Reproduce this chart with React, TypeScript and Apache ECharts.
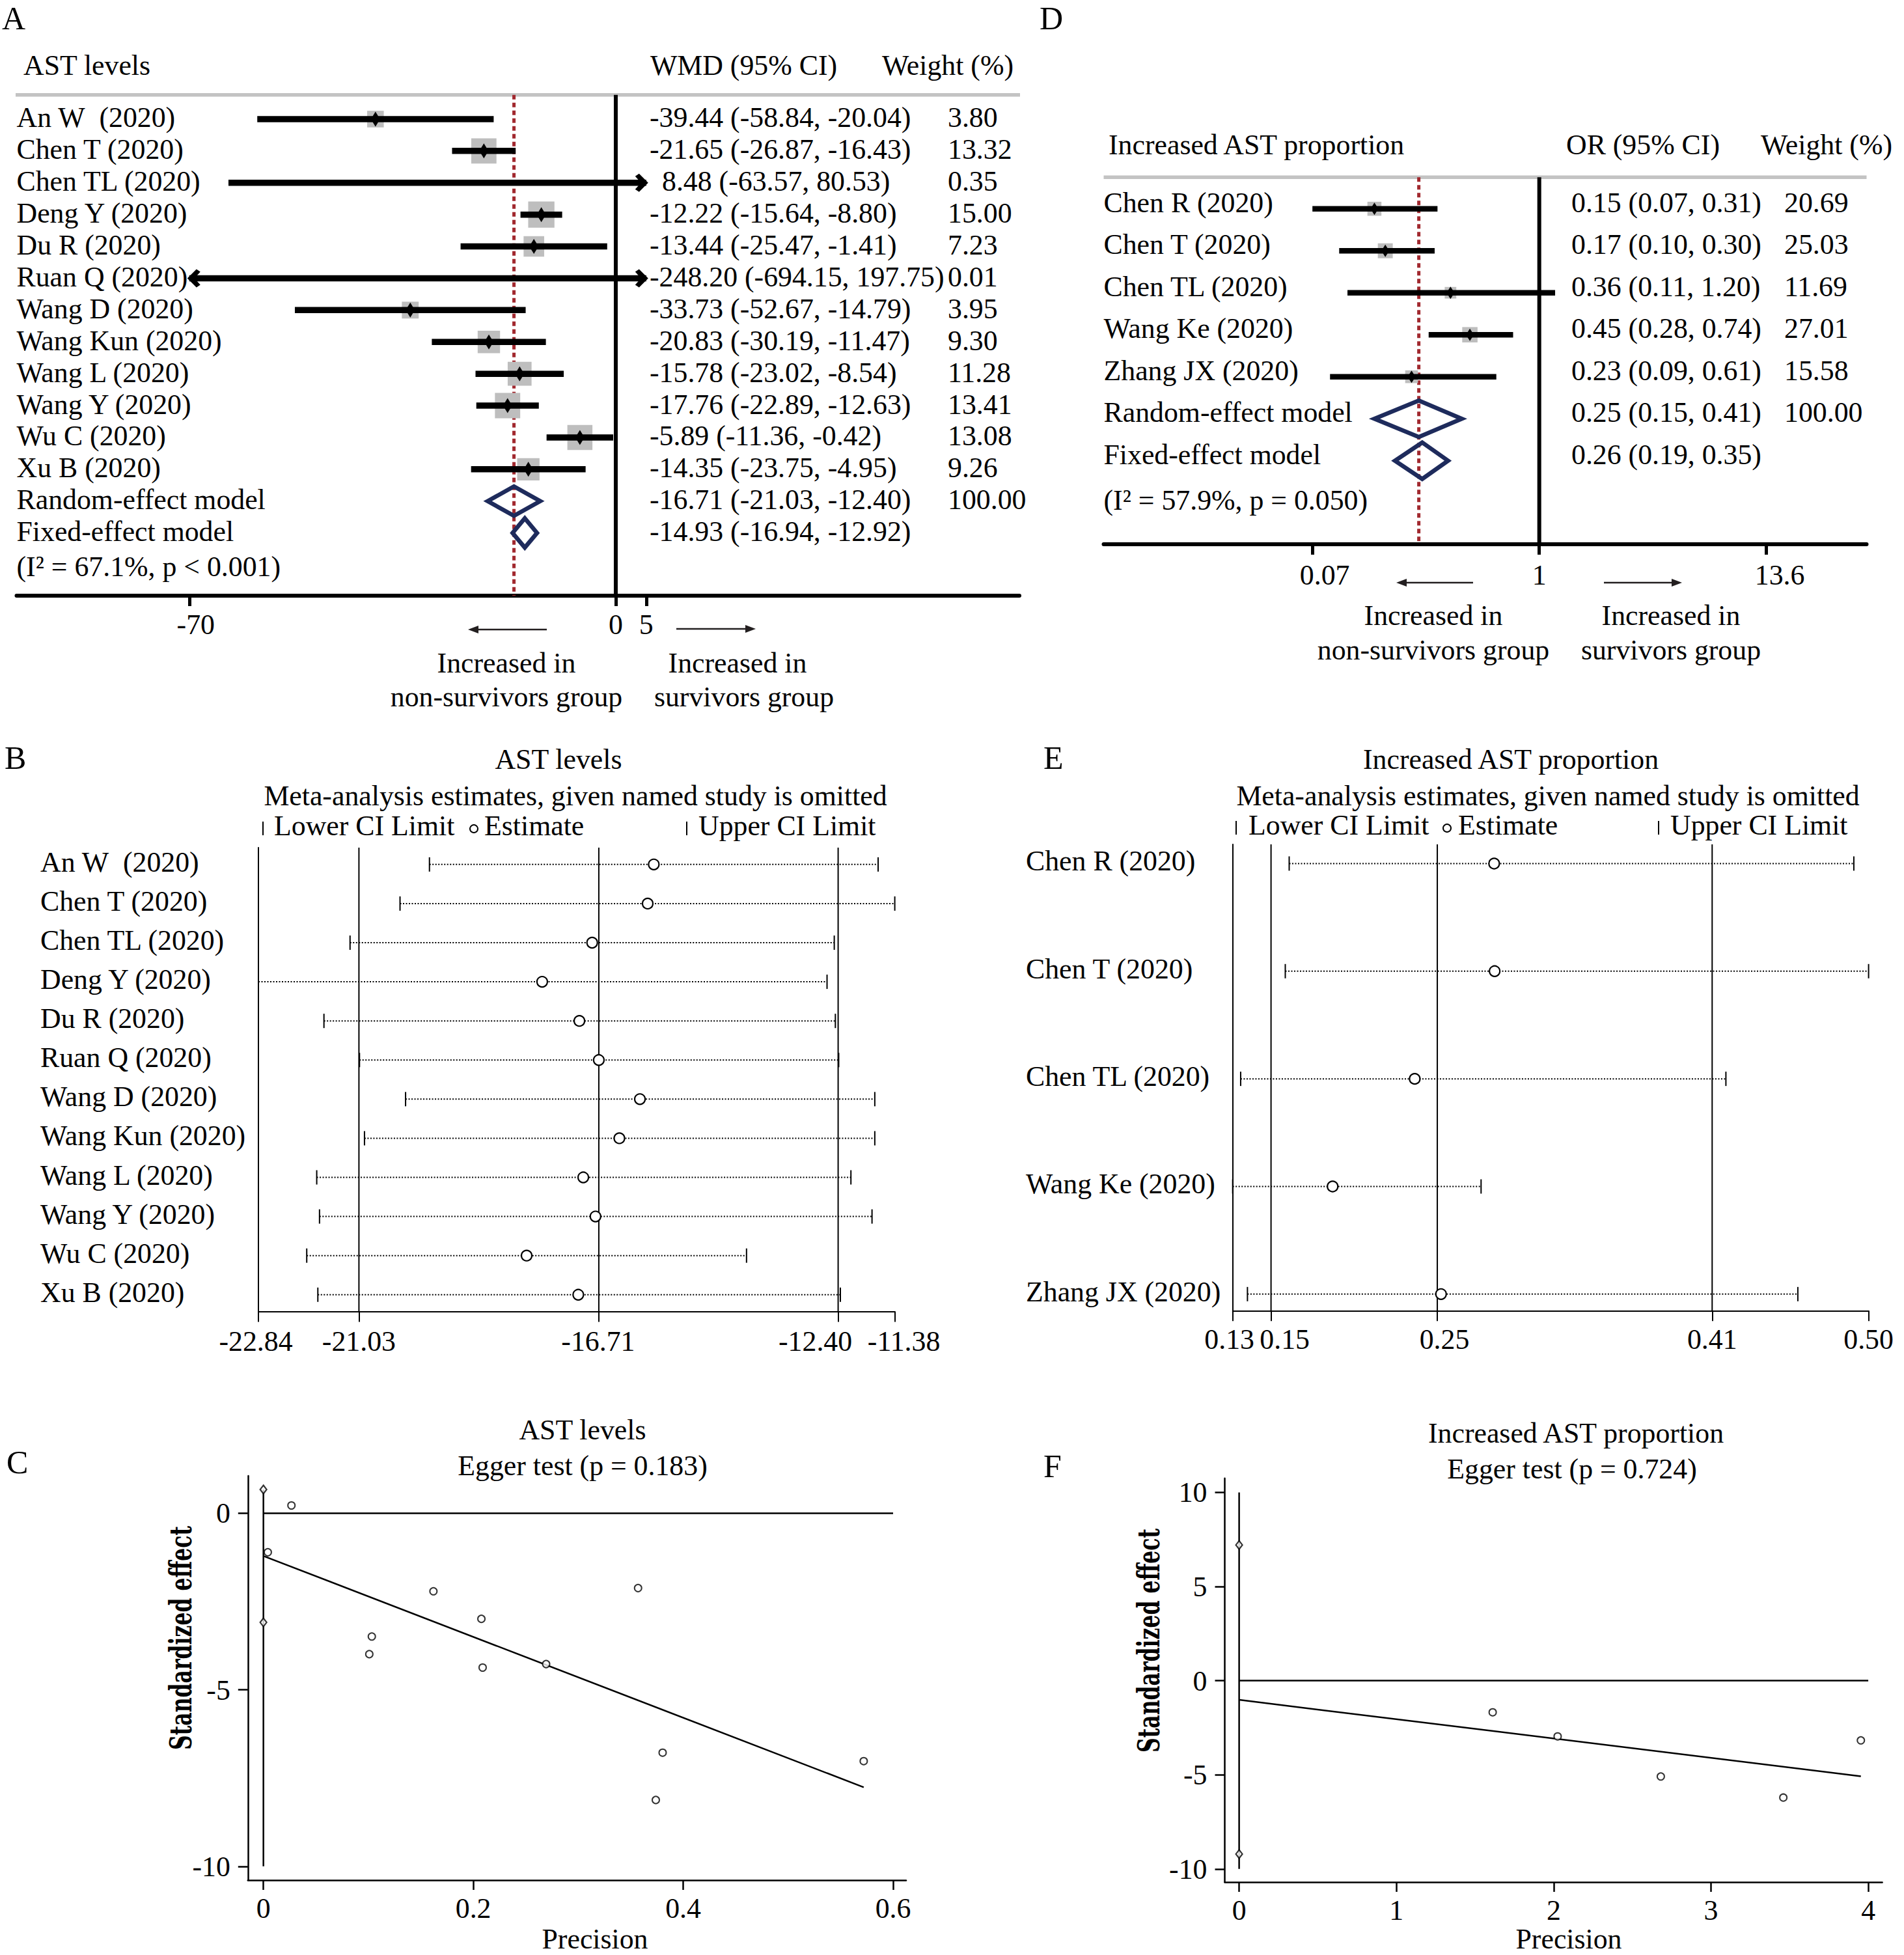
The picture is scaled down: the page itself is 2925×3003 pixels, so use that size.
import React, { useEffect, useRef } from "react";
import * as echarts from "echarts";

const FONT = '"Liberation Serif", "Times New Roman", serif';
const FS = 43.8;
const NAVY = "#1e2b5c";
const RED = "#a1282e";
const BOX = "#bebebe";
const RULE = "#c3c3c3";

// ---------- Panel A : AST levels (WMD forest plot) ----------
const aTitle = "AST levels";
const aStudies = ["An W  (2020)", "Chen T (2020)", "Chen TL (2020)", "Deng Y (2020)", "Du R (2020)", "Ruan Q (2020)", "Wang D (2020)", "Wang Kun (2020)", "Wang L (2020)", "Wang Y (2020)", "Wu C (2020)", "Xu B (2020)"];
const aEst = [-39.44, -21.65, 8.48, -12.22, -13.44, -248.2, -33.73, -20.83, -15.78, -17.76, -5.89, -14.35];
const aLow = [-58.84, -26.87, -63.57, -15.64, -25.47, -694.15, -52.67, -30.19, -23.02, -22.89, -11.36, -23.75];
const aHigh = [-20.04, -16.43, 80.53, -8.8, -1.41, 197.75, -14.79, -11.47, -8.54, -12.63, -0.42, -4.95];
const aWeight = [3.8, 13.32, 0.35, 15.0, 7.23, 0.01, 3.95, 9.3, 11.28, 13.41, 13.08, 9.26];
const aPooled = ["Random-effect model", "Fixed-effect model"];
const aPooledEst = [-16.71, -14.93];
const aPooledLow = [-21.03, -16.94];
const aPooledHigh = [-12.4, -12.92];
const aPooledWeight = [100.0, NaN];
const aHet = "(I\u00b2 = 67.1%, p < 0.001)";
const aTicks = [-70, 0, 5];
const aTickLabels = ["-70", "0", "5"];

// ---------- Panel D : Increased AST proportion (OR forest plot) ----------
const dTitle = "Increased AST proportion";
const dStudies = ["Chen R (2020)", "Chen T (2020)", "Chen TL (2020)", "Wang Ke (2020)", "Zhang JX (2020)"];
const dEst = [0.15, 0.17, 0.36, 0.45, 0.23];
const dLow = [0.0735, 0.1, 0.11, 0.28, 0.09];
const dHigh = [0.31, 0.3, 1.2, 0.74, 0.61];
const dWeight = [20.69, 25.03, 11.69, 27.01, 15.58];
const dPooled = ["Random-effect model", "Fixed-effect model"];
const dPooledEst = [0.25, 0.26];
const dPooledLow = [0.15, 0.19];
const dPooledHigh = [0.41, 0.35];
const dPooledWeight = [100.0, NaN];
const dHet = "(I\u00b2 = 57.9%, p = 0.050)";
const dTicks = [0.0735, 1, 13.6];
const dTickLabels = ["0.07", "1", "13.6"];

// ---------- Panel B : leave-one-out, AST levels ----------
const bStudies = ["An W  (2020)", "Chen T (2020)", "Chen TL (2020)", "Deng Y (2020)", "Du R (2020)", "Ruan Q (2020)", "Wang D (2020)", "Wang Kun (2020)", "Wang L (2020)", "Wang Y (2020)", "Wu C (2020)", "Xu B (2020)"];
const bEst = [-15.72, -15.83, -16.83, -17.73, -17.06, -16.71, -15.97, -16.34, -16.99, -16.77, -18.01, -17.08];
const bLow = [-19.76, -20.29, -21.19, -22.84, -21.66, -21.02, -20.19, -20.93, -21.79, -21.74, -21.97, -21.77];
const bHigh = [-11.68, -11.38, -12.47, -12.6, -12.45, -12.39, -11.74, -11.74, -12.17, -11.79, -14.05, -12.36];
const bTicks = [-22.84, -21.03, -16.71, -12.4, -11.38];

// ---------- Panel E : leave-one-out, increased AST proportion ----------
const eStudies = ["Chen R (2020)", "Chen T (2020)", "Chen TL (2020)", "Wang Ke (2020)", "Zhang JX (2020)"];
const eEst = [0.2815, 0.2818, 0.2347, 0.1863, 0.2502];
const eLow = [0.1607, 0.1584, 0.1321, 0.1274, 0.1361];
const eHigh = [0.4935, 0.5022, 0.4181, 0.2738, 0.4605];
const eTicks = [0.1274, 0.15, 0.248, 0.41, 0.5022];

// ---------- Panel C : Egger test, AST levels ----------
const cPrecision = [0.0267, 0.0042, 0.162, 0.357, 0.2077, 0.1033, 0.1009, 0.2089, 0.2694, 0.3804, 0.572, 0.3739];
const cEffect = [0.221, -1.104, -2.209, -2.118, -2.99, -3.49, -3.99, -4.37, -4.27, -6.78, -7.02, -8.12];
const cFit = [[0, -1.21], [0.572, -7.76]];
const cInterceptCI = [-3.09, 0.673];
const cXTicks = [0, 0.2, 0.4, 0.6];
const cYTicks = [-10, -5, 0];

// ---------- Panel F : Egger test, increased AST proportion ----------
const fPrecision = [1.612, 2.025, 2.681, 3.46, 3.953];
const fEffect = [-1.68, -2.96, -5.09, -6.21, -3.17];
const fFit = [[0, -1.02], [3.953, -5.08]];
const fInterceptCI = [-9.21, 7.21];
const fXTicks = [0, 1, 2, 3, 4];
const fYTicks = [-10, -5, 0, 5, 10];

// tick-label nudges (pixels) as drawn in the original figure
const aLabelNudge = [10, 0, 0];
const dLabelNudge = [19, 0, 21];
const bLabelNudge = [-4, 0, -1, -35, 14];
const eLabelNudge = [-5, 21, 11, 0, 0];

function T(text: string, x: number, y: number, align = "left", size = FS, weight = "normal", family = FONT) {
  return {
    type: "text",
    x,
    y,
    silent: true,
    style: {
      text,
      font: `${weight} ${size}px ${family}`,
      fill: "#000",
      textAlign: align,
      textVerticalAlign: "middle",
    },
  };
}

function vline(gi: number, vals: number[], style: any) {
  return {
    type: "custom",
    xAxisIndex: gi,
    yAxisIndex: gi,
    silent: true,
    data: vals.map((v) => [v, 0]),
    encode: { x: 0, y: 1 },
    renderItem: (params: any, api: any) => {
      const cs = params.coordSys;
      const x = api.coord([api.value(0), api.value(1)])[0];
      return { type: "line", shape: { x1: x, y1: cs.y, x2: x, y2: cs.y + cs.height }, style: { ...style } };
    },
  };
}

function tickLabelSeries(gi: number, ticks: number[], labels: string[], nudge: number[], dy: number) {
  return {
    type: "custom",
    xAxisIndex: gi,
    yAxisIndex: gi,
    silent: true,
    data: ticks.map((v) => [v, 0]),
    encode: { x: 0, y: 1 },
    renderItem: (params: any, api: any) => {
      const cs = params.coordSys;
      const i = params.dataIndex;
      const x = api.coord([api.value(0), api.value(1)])[0] + nudge[i];
      return T(labels[i], x, cs.y + cs.height + dy, "center");
    },
  };
}

function forestSeries(f: any) {
  const cmin = f.tf(f.clip[0]);
  const cmax = f.tf(f.clip[1]);
  const n = f.labels.length;
  const rows = f.labels.map((_: any, i: number) => [i, f.tf(f.lo[i]), f.tf(f.est[i]), f.tf(f.hi[i]), f.w[i]]);
  const pooled = f.pLabels.map((_: any, j: number) => [n + j, f.tf(f.pLo[j]), f.tf(f.pEst[j]), f.tf(f.pHi[j])]);
  const arrow = (x: number, y: number, dir: number) => ({
    type: "polygon",
    shape: {
      points: [
        [x, y],
        [x - dir * 14, y - 14],
        [x - dir * 20, y - 10],
        [x - dir * 11, y],
        [x - dir * 20, y + 10],
        [x - dir * 14, y + 14],
      ],
    },
    style: { fill: "#000" },
  });
  const rowSeries = {
    type: "custom",
    xAxisIndex: f.gi,
    yAxisIndex: f.gi,
    silent: true,
    data: rows,
    encode: { x: [1, 2, 3], y: 0 },
    renderItem: (params: any, api: any) => {
      const idx = api.value(0);
      const lo = api.value(1);
      const est = api.value(2);
      const hi = api.value(3);
      const w = api.value(4);
      const a = Math.max(lo, cmin);
      const b = Math.min(hi, cmax);
      const pA = api.coord([a, idx]);
      const pB = api.coord([b, idx]);
      const pE = api.coord([est, idx]);
      const y = pA[1];
      const ch: any[] = [];
      const vis = est >= cmin && est <= cmax;
      if (vis) {
        const s = f.boxK * Math.cbrt(w);
        ch.push({ type: "rect", shape: { x: pE[0] - s / 2, y: y - s / 2, width: s, height: s }, style: { fill: BOX } });
      }
      ch.push({ type: "line", shape: { x1: pA[0], y1: y, x2: pB[0], y2: y }, style: { stroke: "#000", lineWidth: f.barW } });
      if (lo < cmin) ch.push(arrow(pA[0] - 3, y, -1));
      if (hi > cmax) ch.push(arrow(pB[0] + 3, y, 1));
      if (vis) {
        ch.push({
          type: "polygon",
          shape: {
            points: [
              [pE[0], y - f.markH / 2],
              [pE[0] + f.markW / 2, y],
              [pE[0], y + f.markH / 2],
              [pE[0] - f.markW / 2, y],
            ],
          },
          style: { fill: "#000" },
        });
      }
      return { type: "group", children: ch };
    },
  };
  const pooledSeries = {
    type: "custom",
    xAxisIndex: f.gi,
    yAxisIndex: f.gi,
    silent: true,
    data: pooled,
    encode: { x: [1, 2, 3], y: 0 },
    renderItem: (params: any, api: any) => {
      const idx = api.value(0);
      const l = api.coord([api.value(1), idx]);
      const e = api.coord([api.value(2), idx]);
      const h = api.coord([api.value(3), idx]);
      const y = e[1];
      return {
        type: "polygon",
        shape: { points: [[l[0], y], [e[0], y - f.dHalf], [h[0], y], [e[0], y + f.dHalf]] },
        style: { fill: "none", stroke: NAVY, lineWidth: 6.5, lineJoin: "miter" },
      };
    },
  };
  const allLabels = [...f.labels, ...f.pLabels];
  const ciText = (e: number, l: number, h: number) => `${e.toFixed(2)} (${l.toFixed(2)}, ${h.toFixed(2)})`;
  const textSeries = {
    type: "custom",
    xAxisIndex: f.gi,
    yAxisIndex: f.gi,
    silent: true,
    data: allLabels.map((_: any, i: number) => [cmin, i]),
    encode: { x: 0, y: 1 },
    renderItem: (params: any, api: any) => {
      const i = params.dataIndex;
      const y = api.coord([api.value(0), api.value(1)])[1] + f.textDy;
      const isP = i >= n;
      const j = i - n;
      const e = isP ? f.pEst[j] : f.est[i];
      const l = isP ? f.pLo[j] : f.lo[i];
      const h = isP ? f.pHi[j] : f.hi[i];
      const w = isP ? f.pW[j] : f.w[i];
      const ch: any[] = [
        T(String(allLabels[i]).replace(/  /g, "\u00a0 "), f.xLabel, y),
        T(ciText(e, l, h), f.xCI + (e >= 0 ? f.posShift : 0), y),
      ];
      if (w != null && !isNaN(w)) ch.push(T(w.toFixed(2), f.xW, y));
      return { type: "group", children: ch };
    },
  };
  return [
    vline(f.gi, [f.tf(f.nullValue)], { stroke: "#000", lineWidth: 6 }),
    vline(f.gi, [f.tf(f.refValue)], { stroke: RED, lineWidth: 5, lineDash: [7, 5] }),
    rowSeries,
    pooledSeries,
    textSeries,
  ];
}

function influenceSeries(gi: number, labels: string[], lo: number[], est: number[], hi: number[], xLabel: number) {
  const data = est.map((_, i) => [i, lo[i], est[i], hi[i]]);
  return [
    {
      type: "custom",
      xAxisIndex: gi,
      yAxisIndex: gi,
      silent: true,
      data,
      encode: { x: [1, 2, 3], y: 0 },
      renderItem: (params: any, api: any) => {
        const idx = api.value(0);
        const pL = api.coord([api.value(1), idx]);
        const pE = api.coord([api.value(2), idx]);
        const pH = api.coord([api.value(3), idx]);
        const y = pL[1];
        return {
          type: "group",
          children: [
            { type: "line", shape: { x1: pL[0], y1: y, x2: pH[0], y2: y }, style: { stroke: "#000", lineWidth: 2, lineDash: [2, 2.5] } },
            { type: "line", shape: { x1: pL[0], y1: y - 11, x2: pL[0], y2: y + 11 }, style: { stroke: "#000", lineWidth: 2 } },
            { type: "line", shape: { x1: pH[0], y1: y - 11, x2: pH[0], y2: y + 11 }, style: { stroke: "#000", lineWidth: 2 } },
            { type: "circle", shape: { cx: pE[0], cy: y, r: 8 }, style: { fill: "#fff", stroke: "#000", lineWidth: 2.2 } },
          ],
        };
      },
    },
    {
      type: "custom",
      xAxisIndex: gi,
      yAxisIndex: gi,
      silent: true,
      data: labels.map((_, i) => [lo[0], i]),
      encode: { x: 0, y: 1 },
      renderItem: (params: any, api: any) => {
        const y = api.coord([api.value(0), api.value(1)])[1] - 4;
        return T(labels[params.dataIndex].replace(/  /g, "\u00a0 "), xLabel, y);
      },
    },
  ];
}

function eggerSeries(gi: number, prec: number[], eff: number[], fit: number[][], ci: number[], xt: number[], yt: number[]) {
  const base = { xAxisIndex: gi, yAxisIndex: gi, silent: true };
  const lineStyle = { color: "#000", width: 2.5 };
  return [
    { ...base, type: "line", data: [[xt[0], 0], [xt[xt.length - 1], 0]], symbol: "none", lineStyle },
    {
      ...base,
      type: "line",
      data: [[0, Math.min(ci[0], yt[0])], [0, Math.max(ci[1], yt[yt.length - 1])]],
      symbol: "none",
      lineStyle,
    },
    { ...base, type: "line", data: fit, symbol: "none", lineStyle },
    {
      ...base,
      type: "scatter",
      data: ci.map((v) => [0, v]),
      symbol: "diamond",
      symbolSize: [10, 13],
      itemStyle: { color: "#fff", borderColor: "#000", borderWidth: 2.2 },
      z: 5,
    },
    {
      ...base,
      type: "scatter",
      data: prec.map((p, i) => [p, eff[i]]),
      symbol: "circle",
      symbolSize: 11,
      itemStyle: { color: "#fff", borderColor: "#000", borderWidth: 2 },
      z: 5,
    },
  ];
}

const labelStyle = { color: "#000", fontSize: FS, fontFamily: FONT };

function bottomAxis(gi: number, min: number, max: number, ticks: number[], fmt: any, lineW: number, tickW: number, tickLen: number, margin: number, showLabels: boolean) {
  return {
    gridIndex: gi,
    type: "value",
    min,
    max,
    position: "bottom",
    axisLine: { show: true, onZero: false, lineStyle: { color: "#000", width: lineW } },
    axisTick: { show: true, customValues: ticks, length: tickLen, inside: false, lineStyle: { color: "#000", width: tickW } },
    axisLabel: { show: showLabels, customValues: ticks, formatter: fmt, margin, hideOverlap: false, ...labelStyle },
    splitLine: { show: false },
  };
}

function rowAxis(gi: number, min: number, max: number, showLine: boolean) {
  return {
    gridIndex: gi,
    type: "value",
    min,
    max,
    inverse: true,
    axisLine: { show: showLine, onZero: false, lineStyle: { color: "#000", width: 2 } },
    axisTick: { show: false },
    axisLabel: { show: false },
    splitLine: { show: false },
  };
}

function leftAxis(gi: number, min: number, max: number, ticks: number[]) {
  return {
    gridIndex: gi,
    type: "value",
    min,
    max,
    axisLine: { show: true, onZero: false, lineStyle: { color: "#000", width: 2.5 } },
    axisTick: { show: true, customValues: ticks, length: 15, lineStyle: { color: "#000", width: 2.5 } },
    axisLabel: { show: true, customValues: ticks, margin: 27, hideOverlap: false, formatter: (v: number) => String(v), ...labelStyle },
    splitLine: { show: false },
  };
}

function buildOption() {
  const G: any[] = [];
  const gt = (text: string, x: number, y: number, align = "left", size = FS) => G.push(T(text, x, y, align, size));
  const arrowG = (x1: number, x2: number, y: number) => {
    const dir = Math.sign(x2 - x1);
    G.push({ type: "line", silent: true, shape: { x1, y1: y, x2: x2 - dir * 6, y2: y }, style: { stroke: "#231f20", lineWidth: 2.5 } });
    G.push({ type: "polygon", silent: true, shape: { points: [[x2, y], [x2 - dir * 16, y - 6], [x2 - dir * 16, y + 6]] }, style: { fill: "#231f20" } });
  };
  const legendG = (xt1: number, xs1: number, xc: number, xs2: number, xt2: number, xs3: number, y: number) => {
    G.push({ type: "line", silent: true, shape: { x1: xt1, y1: y - 6, x2: xt1, y2: y + 15 }, style: { stroke: "#000", lineWidth: 2 } });
    gt("Lower CI Limit", xs1, y);
    G.push({ type: "circle", silent: true, shape: { cx: xc, cy: y + 5, r: 6 }, style: { fill: "none", stroke: "#000", lineWidth: 2 } });
    gt("Estimate", xs2, y);
    G.push({ type: "line", silent: true, shape: { x1: xt2, y1: y - 6, x2: xt2, y2: y + 15 }, style: { stroke: "#000", lineWidth: 2 } });
    gt("Upper CI Limit", xs3, y);
  };
  const yTitle = (x: number, y: number) =>
    G.push({
      type: "text",
      x,
      y,
      rotation: Math.PI / 2,
      scaleX: 0.67,
      silent: true,
      style: { text: "Standardized effect", font: 'bold 47px "DejaVu Serif"', fill: "#000", textAlign: "center", textVerticalAlign: "middle" },
    });

  // panel letters
  gt("A", 3, 28, "left", 50);
  gt("D", 1597, 28, "left", 50);
  gt("B", 7, 1164, "left", 50);
  gt("E", 1603, 1164, "left", 50);
  gt("C", 10, 2246, "left", 50);
  gt("F", 1603, 2252, "left", 50);

  // Panel A decorations
  gt(aTitle, 36, 100);
  gt("WMD (95% CI)", 999, 100);
  gt("Weight (%)", 1355, 100);
  G.push({ type: "line", silent: true, shape: { x1: 24, y1: 145.7, x2: 1567, y2: 145.7 }, style: { stroke: RULE, lineWidth: 5.5 } });
  gt(aHet, 25.5, 870);
  arrowG(840, 719, 967);
  arrowG(1039, 1161, 966);
  gt("Increased in", 778, 1018, "center");
  gt("non-survivors group", 778, 1070, "center");
  gt("Increased in", 1133, 1018, "center");
  gt("survivors group", 1143, 1070, "center");

  // Panel D decorations
  gt(dTitle, 1703, 222);
  gt("OR (95% CI)", 2406, 222);
  gt("Weight (%)", 2705, 222);
  G.push({ type: "line", silent: true, shape: { x1: 1695.5, y1: 272.3, x2: 2867.5, y2: 272.3 }, style: { stroke: RULE, lineWidth: 5.5 } });
  gt(dHet, 1695.5, 768);
  arrowG(2263, 2145, 895);
  arrowG(2464, 2584, 895);
  gt("Increased in", 2202, 945, "center");
  gt("non-survivors group", 2202, 998, "center");
  gt("Increased in", 2567, 945, "center");
  gt("survivors group", 2567, 998, "center");

  // Panel B / E headers
  gt("AST levels", 858, 1166, "center");
  gt("Meta-analysis estimates, given named study is omitted", 884, 1222, "center");
  legendG(404, 421, 728, 744, 1055, 1073, 1268);
  gt("Increased AST proportion", 2321, 1166, "center");
  gt("Meta-analysis estimates, given named study is omitted", 2378, 1222, "center");
  legendG(1899, 1918, 2223, 2240, 2548, 2566, 1267);

  // Panel C / F headers
  gt("AST levels", 895, 2196, "center");
  gt("Egger test (p = 0.183)", 895, 2251, "center");
  gt("Precision", 914, 2978, "center");
  yTitle(277, 2516);
  gt("Increased AST proportion", 2421, 2201, "center");
  gt("Egger test (p = 0.724)", 2415, 2256, "center");
  gt("Precision", 2410, 2978, "center");
  yTitle(1764, 2520);

  const dTicksLn = dTicks.map((v) => Math.log(v));

  const grids = [
    { left: 25.5, top: 145.7, width: 1540.5, height: 769.3 },
    { left: 1695.5, top: 272.3, width: 1172, height: 563.7 },
    { left: 397, top: 1302, width: 977.6, height: 712.6 },
    { left: 1893.7, top: 1297, width: 976.9, height: 716.3 },
    { left: 380.8, top: 2267, width: 1011.2, height: 621 },
    { left: 1881.5, top: 2270.8, width: 1010.1, height: 620.2 },
  ].map((g) => ({ ...g, containLabel: false, outerBoundsMode: "none", show: false }));

  const xAxis = [
    bottomAxis(0, -98.34, 66.24, aTicks, (v: number) => String(v), 6, 5, 16, 24, false),
    bottomAxis(1, -5.0127, 3.7663, dTicksLn, (v: number) => String(v), 6, 5, 16, 26, false),
    bottomAxis(2, bTicks[0], bTicks[bTicks.length - 1], bTicks, (v: number) => v.toFixed(2), 2, 2, 16, 23, false),
    bottomAxis(3, eTicks[0], eTicks[eTicks.length - 1], eTicks, (v: number) => v.toFixed(2), 2, 2, 16, 23, false),
    bottomAxis(4, -0.0148, 0.6124, cXTicks, (v: number) => String(v), 2.5, 2.5, 15, 21, true),
    bottomAxis(5, -0.0915, 4.089, fXTicks, (v: number) => String(v), 2.5, 2.5, 15, 21, true),
  ];
  const yAxis = [
    rowAxis(0, -0.761, 14.97, false),
    rowAxis(1, -0.75, 7.989, false),
    rowAxis(2, -0.43, 11.43, true),
    rowAxis(3, -0.178, 4.154, true),
    leftAxis(4, -10.39, 1.06, cYTicks),
    leftAxis(5, -10.7, 10.75, fYTicks),
  ];

  const series: any[] = [
    ...forestSeries({
      gi: 0,
      labels: aStudies, est: aEst, lo: aLow, hi: aHigh, w: aWeight,
      pLabels: aPooled, pEst: aPooledEst, pLo: aPooledLow, pHi: aPooledHigh, pW: aPooledWeight,
      tf: (v: number) => v,
      clip: [aTicks[0], aTicks[aTicks.length - 1]],
      nullValue: 0,
      refValue: aPooledEst[0],
      boxK: 16.35, markW: 14, markH: 23, barW: 9.5, dHalf: 22.5,
      xLabel: 25.5, xCI: 998, xW: 1456, posShift: 19, textDy: -2.5,
    }),
    tickLabelSeries(0, aTicks, aTickLabels, aLabelNudge, 44),
    ...forestSeries({
      gi: 1,
      labels: dStudies, est: dEst, lo: dLow, hi: dHigh, w: dWeight,
      pLabels: dPooled, pEst: dPooledEst, pLo: dPooledLow, pHi: dPooledHigh, pW: dPooledWeight,
      tf: (v: number) => Math.log(v),
      clip: [dTicks[0], dTicks[dTicks.length - 1]],
      nullValue: 1,
      refValue: dPooledEst[0],
      boxK: 7.85, markW: 12, markH: 19, barW: 8.5, dHalf: 28,
      xLabel: 1695.5, xCI: 2414, xW: 2741, posShift: 0, textDy: -10,
    }),
    tickLabelSeries(1, dTicksLn, dTickLabels, dLabelNudge, 47),
    vline(2, bTicks.slice(1, 4), { stroke: "#000", lineWidth: 2 }),
    ...influenceSeries(2, bStudies, bLow, bEst, bHigh, 62),
    tickLabelSeries(2, bTicks, bTicks.map((v) => v.toFixed(2)), bLabelNudge, 45),
    vline(3, eTicks.slice(1, 4), { stroke: "#000", lineWidth: 2 }),
    ...influenceSeries(3, eStudies, eLow, eEst, eHigh, 1576),
    tickLabelSeries(3, eTicks, eTicks.map((v) => v.toFixed(2)), eLabelNudge, 44),
    ...eggerSeries(4, cPrecision, cEffect, cFit, cInterceptCI, cXTicks, cYTicks),
    ...eggerSeries(5, fPrecision, fEffect, fFit, fInterceptCI, fXTicks, fYTicks),
  ];

  return {
    animation: false,
    backgroundColor: "#fff",
    textStyle: { fontFamily: FONT },
    grid: grids,
    xAxis,
    yAxis,
    series,
    graphic: { elements: G },
  };
}

export default function App() {
  const ref = useRef<HTMLDivElement>(null);
  useEffect(() => {
    document.body.style.margin = "0";
    const chart = echarts.init(ref.current as HTMLDivElement, null, { renderer: "svg" });
    chart.setOption(buildOption() as any);
    return () => chart.dispose();
  }, []);
  return <div ref={ref} style={{ width: 2925, height: 3003, background: "#fff" }} />;
}
